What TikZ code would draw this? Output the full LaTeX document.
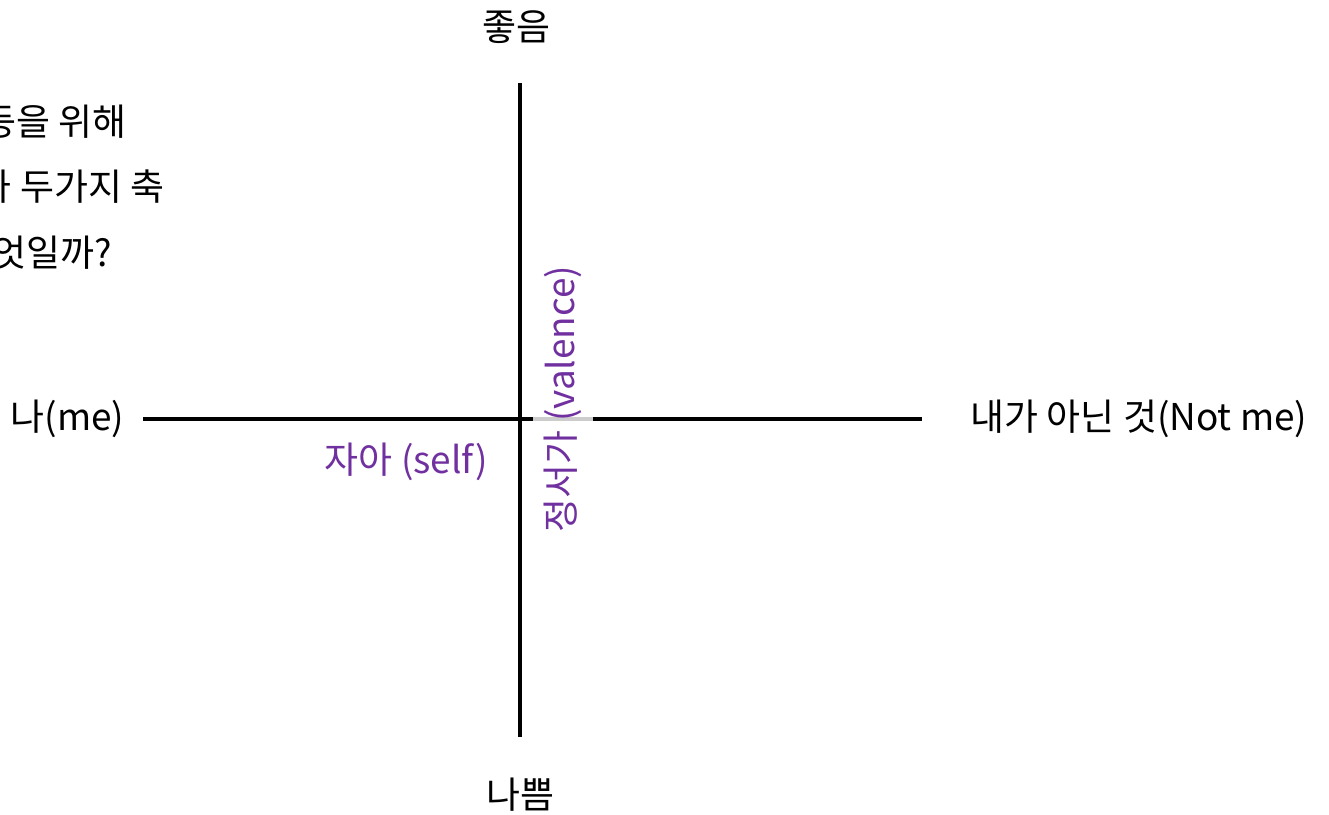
\documentclass[tikz,border=0pt]{standalone}
\usepackage{fontspec}
\setmainfont{Noto Sans CJK KR}
\definecolor{selfpurple}{RGB}{112,48,160}
\begin{document}
\begin{tikzpicture}[x=0.01cm, y=0.01cm,
    lbl/.style={inner sep=0pt, font=\fontsize{10.5}{12}\selectfont},
    plbl/.style={lbl, text=selfpurple},
    axisline/.style={line width=0.9pt, black}]
    \useasboundingbox (0,0) rectangle (1329,815);
    \clip (0,0) rectangle (1329,815);

    % axes
    \coordinate (top) at (520,732);
    \coordinate (bot) at (520,78);
    \coordinate (lft) at (143,396);
    \coordinate (rgt) at (922,396);
    \draw[axisline] (top) -- (bot);
    \draw[axisline] (lft) -- (rgt);
    \draw[line width=0.9pt, black!20] (533,396) -- (593,396);

    \node[lbl] (good) at (516,788){좋음};
    \node[lbl] (bad) at (520,20){나쁨};
    \node[lbl, anchor=east] (me) at (125,396){나(me)};
    \node[lbl, anchor=west] (notme) at (970,396){내가 아닌 것(Not me)};

    \node[plbl, anchor=east] (self) at (489,353){자아 (self)};
    \node[plbl, rotate=90] (valence) at (563,416){정서가 (valence)};

    \node[lbl, anchor=east] (q1) at (127,693){등을 위해};
    \node[lbl, anchor=east] (q2) at (165,628){가 두가지 축};
    \node[lbl, anchor=east] (q3) at (113,562){무엇일까?};
\end{tikzpicture}
\end{document}
